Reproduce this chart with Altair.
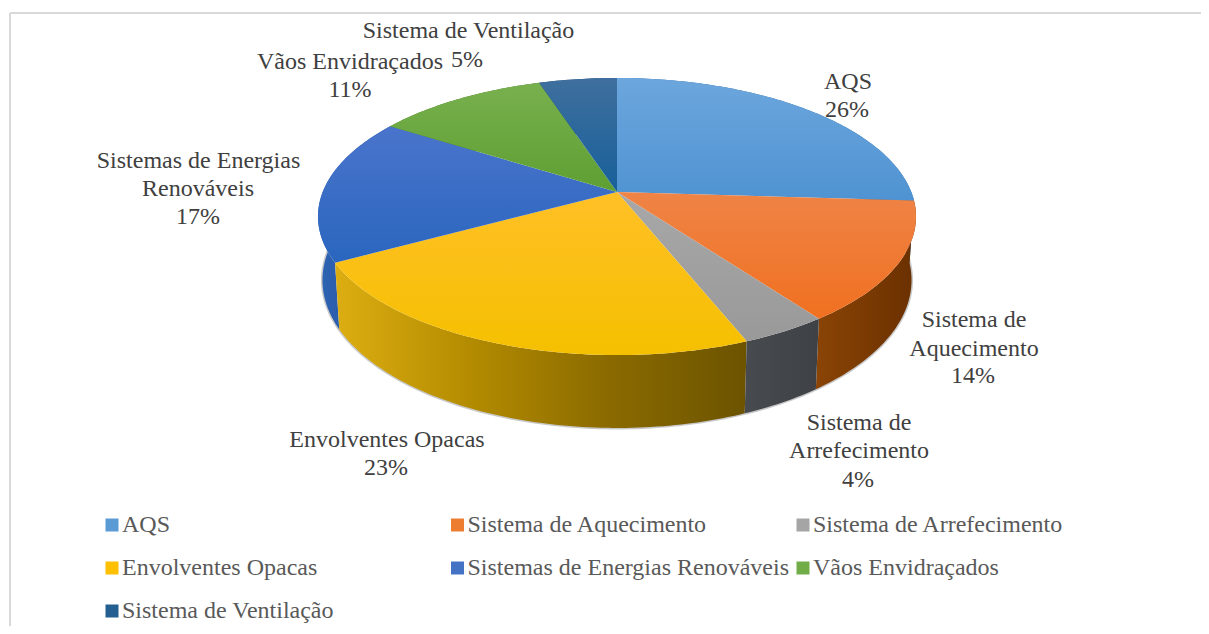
import math
import altair as alt

# ---- values ----
categories = ["AQS", "Sistema de Aquecimento", "Sistema de Arrefecimento", "Envolventes Opacas",
              "Sistemas de Energias Renováveis", "Vãos Envidraçados", "Sistema de Ventilação"]
shares = [26, 14, 4, 23, 17, 11, 5]

# ---- styling ----
legend_colors = ["#5B9BD5", "#ED7D31", "#A5A5A5", "#FFC000", "#4472C4", "#70AD47", "#255E91"]
top_stops = [("#6CA6DD", "#4F93D2"), ("#EF8446", "#F07020"), ("#A8A8A8", "#999999"), ("#FFC026", "#F5C000"),
             ("#4A74CC", "#2A66BE"), ("#78B04E", "#5E9F32"), ("#3F6F9E", "#17609A")]
wall_stops = [["#2F6CA8", "#2F6CA8"], ["#8A4406", "#7A3A02", "#6A3000"], ["#474A4E", "#3E4246"],
              ["#DDAE12", "#B38B00", "#8A6A00", "#6C5300"], ["#2F64B4", "#1F4F98"],
              ["#4C7A30", "#4C7A30"], ["#1A4A75", "#1A4A75"]]
FONT = "Liberation Serif"
LABEL_SIZE = 24

# perspective model of the disc, pixels around the apex
APEX = (617, 192)
A, B, W = 294.3, 134.2, 0.177
DEPTH, BOTTOM_SCALE = 62.0, 0.985


def rim(turn, bottom=False):
    t = 2 * math.pi * turn
    X, Y = math.sin(t), -math.cos(t)
    D = 1 - W * Y
    if bottom:
        return [A * BOTTOM_SCALE * X / D, DEPTH / D + B * BOTTOM_SCALE * Y / D]
    return [A * X / D, B * Y / D]


def arc_turns(a, b):
    n = max(2, int((b - a) * 360))
    return [a + (b - a) * i / n for i in range(n + 1)]


def feature(ring, name):
    return {"type": "Feature", "properties": {"category": name},
            "geometry": {"type": "Polygon", "coordinates": [ring + [ring[0]]]}}


def linear(colors, horizontal=False):
    stops = [alt.GradientStop(offset=i / (len(colors) - 1), color=c) for i, c in enumerate(colors)]
    return alt.Gradient(gradient="linear", stops=stops, x1=0, x2=1 if horizontal else 0, y1=0, y2=0 if horizontal else 1)


projection = alt.Projection(type="identity", scale=1, translate=[APEX[0] - 8, APEX[1] - 8])

total = sum(shares)
starts = [sum(shares[:i]) / total for i in range(len(shares))]
ends = [sum(shares[:i + 1]) / total for i in range(len(shares))]

# soft shadow hugging the lower rim
shadow_ring = [rim(t, True) for t in arc_turns(0, 1)]
shadow = alt.Chart(alt.Data(values=[feature(shadow_ring, "shadow")])).mark_geoshape(
    fill="#808080", fillOpacity=0, stroke="#606060", strokeOpacity=0.35, strokeWidth=3
).project(**projection.to_dict())

walls, tops = [], []
for i in [0, 6, 5, 4, 1, 3, 2]:
    turns = arc_turns(starts[i], ends[i])
    ring = [rim(t) for t in turns] + [rim(t, True) for t in reversed(turns)]
    walls.append(alt.Chart(alt.Data(values=[feature(ring, categories[i])]))
                 .mark_geoshape(fill=linear(wall_stops[i], True), strokeWidth=0)
                 .project(**projection.to_dict()))
for i in range(len(shares)):
    turns = arc_turns(starts[i], ends[i])
    ring = [[0, 0]] + [rim(t) for t in turns]
    tops.append(alt.Chart(alt.Data(values=[feature(ring, categories[i])]))
                .mark_geoshape(fill=linear(top_stops[i]), strokeWidth=0)
                .project(**projection.to_dict()))

# one text mark per printed line: (text, centre x, centre y) in page pixels
label_lines = [
    ("Sistema de Ventilação", 468.5, 31), (f"{shares[6]}%", 467, 60),
    ("Vãos Envidraçados", 350, 62), (f"{shares[5]}%", 350, 90),
    ("AQS", 848, 82), (f"{shares[0]}%", 847, 110),
    ("Sistemas de Energias", 198.5, 161), ("Renováveis", 198, 189), (f"{shares[4]}%", 198, 217),
    ("Sistema de", 974, 320), ("Aquecimento", 974, 349), (f"{shares[1]}%", 973, 376),
    ("Sistema de", 859, 423), ("Arrefecimento", 859, 451), (f"{shares[2]}%", 858, 480),
    ("Envolventes Opacas", 387, 440), (f"{shares[3]}%", 386, 468),
]
texts = [alt.Chart(alt.Data(values=[{"label": s}]))
         .mark_text(font=FONT, fontSize=LABEL_SIZE, color="#404040", align="center", baseline="middle",
                    x=px - 8, y=py - 8)
         .encode(text="label:N")
         for s, px, py in label_lines]

frame_top = alt.Chart(alt.Data(values=[{}])).mark_rule(color="#D9D9D9", strokeWidth=2).encode(
    x=alt.value(2), x2=alt.value(1193), y=alt.value(5))
frame_left = alt.Chart(alt.Data(values=[{}])).mark_rule(color="#D9D9D9", strokeWidth=2).encode(
    x=alt.value(2), y=alt.value(5), y2=alt.value(618))

legend_layer = alt.Chart(alt.Data(values=[{"category": c} for c in categories])).mark_square(
    size=1, opacity=0, x=0, y=0
).encode(
    color=alt.Color("category:N", sort=categories,
                    scale=alt.Scale(domain=categories, range=legend_colors),
                    legend=alt.Legend(title=None, orient="none", legendX=92, legendY=505, columns=3,
                                      direction="horizontal", gridAlign="all", symbolType="square",
                                      symbolSize=169, symbolOpacity=1, symbolStrokeWidth=0,
                                      labelFont=FONT, labelFontSize=LABEL_SIZE, labelColor="#595959",
                                      labelLimit=500, labelOffset={"expr": "-2"}, columnPadding=1.5, rowPadding=19,
                                      padding=0))
)

chart = alt.layer(frame_top, frame_left, shadow, *walls, *tops, *texts, legend_layer).properties(
    width=1193, height=618, padding=0, autosize=alt.AutoSizeParams(type="none"),
    background="white"
).configure_view(stroke=None)

chart.save("out.html", embed_options={"renderer": "svg", "actions": False})
